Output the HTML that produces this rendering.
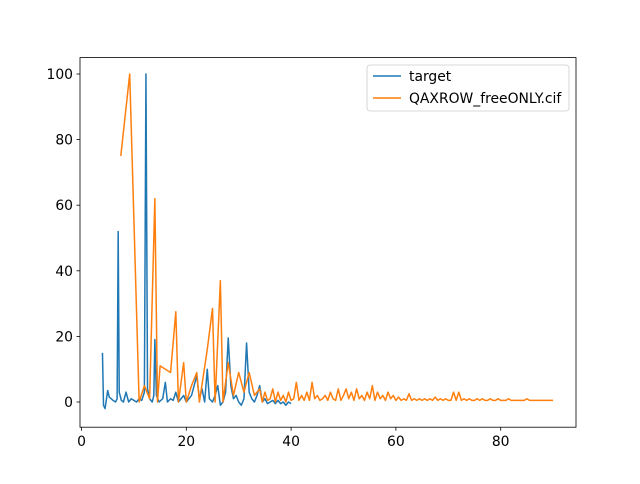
<!DOCTYPE html>
<html><head><meta charset="utf-8"><style>
body{margin:0;background:#fff;font-family:"DejaVu Sans","Liberation Sans",sans-serif}
</style></head><body>
<svg id="chart" width="640" height="480" xmlns="http://www.w3.org/2000/svg" font-family="DejaVu Sans, Liberation Sans, sans-serif">
<rect width="640" height="480" fill="#fff"/>
<g id="plot"></g>
<rect x="80" y="57.6" width="496" height="369.6" fill="none" stroke="#000" stroke-width="0.8"/>
<g id="xticks"></g><g id="yticks"></g>
<g>
<rect x="367" y="65" width="202" height="46" rx="3" fill="#fff" fill-opacity="0.8" stroke="#ccc" stroke-width="0.8"/>
<line x1="373" y1="76" x2="401" y2="76" stroke="#1f77b4" stroke-width="1.5"/>
<text x="409" y="81" font-size="13.9">target</text>
<line x1="373" y1="98" x2="401" y2="98" stroke="#ff7f0e" stroke-width="1.5"/>
<text x="409" y="103" font-size="13.9">QAXROW_freeONLY.cif</text>
</g>
</svg>
<script>
const targetX=[4,4.2,4.5,5,5.3,6,6.5,6.8,7,7.2,7.6,8,8.5,9,9.5,10,10.5,11,11.5,12,12.3,12.6,13,13.5,13.8,14,14.3,14.8,15.5,16,16.4,17,17.5,18,18.5,19,19.5,20,20.5,21,21.5,22,22.5,23,23.5,24,24.4,25,25.5,26,26.5,27,27.5,28,28.5,29,29.5,30,30.5,31,31.5,32,32.5,33,33.5,34,34.5,35,35.5,36,36.5,37,37.5,38,38.5,39,39.5,40];
const targetY=[15,-1,-2,3.5,1.5,0.5,0,1,52,3,0.5,0,3,0,1,0.5,0,1,0.5,3,100,4,1,0,2,19,2,0,1,6,0,1,0.5,3,0,1,2,0,1,2,5,8,1,4,0,10,1,0,2,5,-1,0,3,19.5,5,1,2,0,-1,1,18,3,1,0,2,5,0,1,-0.5,0,0.5,-0.5,0.5,-0.5,0,-1,0,-0.5];
const cifX=[7.5,9.2,11,12,13,14,14.5,15,17,18,18.5,19.5,20,21,22,22.5,24,25,25.5,26.5,27,28,29,30,31,32,33,34,34.5,35,35.5,36,36.5,37,37.5,38,38.5,39,39.5,40,40.5,41,41.5,42,42.5,43,43.5,44,44.5,45,45.5,46,46.5,47,47.5,48,48.5,49,49.5,50,50.5,51,51.5,52,52.5,53,53.5,54,54.5,55,55.5,56,56.5,57,57.5,58,58.5,59,59.5,60,60.5,61,61.5,62,62.5,63,63.5,64,64.5,65,65.5,66,66.5,67,67.5,68,68.5,69,69.5,70,70.5,71,71.5,72,72.5,73,73.5,74,74.5,75,75.5,76,76.5,77,77.5,78,78.5,79,79.5,80,80.5,81,81.5,82,82.5,83,83.5,84,84.5,85,85.5,86,86.5,87,87.5,88,88.5,89,89.5,90];
const cifY=[75,100,0,5,1,62,0,11,9,27.5,0,12,0,5,9,0,16,28.5,0,37,0,12,2,9,3,9,2,4,0,3,0.5,1,4,0,3,0.5,2,0,3,0.5,1,6,0.5,2,0.5,3,0.5,6,1,2,0.5,1,2,0.5,3,1,0.5,4,0.5,2,4,1,3,0.5,4,1,2,0.5,3,1,5,0.5,3,1,2,0.5,3,1,2,0.5,1.5,0.5,1,0.5,2.5,0.5,1,0.5,1,0.5,1,0.5,1,0.5,1.5,0.5,1,0.5,1,0.5,0.5,3,0.5,3,0.5,1,0.5,1,0.5,0.5,1,0.5,1,0.5,0.5,1,0.5,0.5,1,0.5,0.5,0.5,1,0.5,0.5,0.5,0.5,0.5,0.5,1,0.5,0.5,0.5,0.5,0.5,0.5,0.5,0.5,0.5,0.5,1,0.5,0.5,0];
const xTicks=[0,20,40,60,80];
const yTicks=[0,20,40,60,80,100];
const X=v=>81.5+5.24*v, Y=v=>402-3.28*v;
const NS='http://www.w3.org/2000/svg';
const plot=document.getElementById('plot');
function line(xs,ys,color,name){
  const p=document.createElementNS(NS,'polyline');
  p.setAttribute('points',xs.map((x,i)=>X(x)+','+Y(ys[i])).join(' '));
  p.setAttribute('fill','none');p.setAttribute('stroke',color);p.setAttribute('stroke-width','1.5');
  p.setAttribute('stroke-linejoin','round');
  
  
  plot.appendChild(p);
}
line(targetX,targetY,'#1f77b4','target-series');
line(cifX,cifY,'#ff7f0e','cif-series');
const xg=document.getElementById('xticks'), yg=document.getElementById('yticks');
xTicks.forEach(t=>{
  const l=document.createElementNS(NS,'line');
  l.setAttribute('x1',X(t));l.setAttribute('x2',X(t));l.setAttribute('y1',427.2);l.setAttribute('y2',430.7);l.setAttribute('stroke','#000');l.setAttribute('stroke-width','0.8');
  
  
  xg.appendChild(l);
  const tx=document.createElementNS(NS,'text');
  tx.setAttribute('x',X(t));tx.setAttribute('y',446);tx.setAttribute('text-anchor','middle');tx.setAttribute('font-size','13.9');
  tx.textContent=t;
  
  
  xg.appendChild(tx);
});
yTicks.forEach(t=>{
  const l=document.createElementNS(NS,'line');
  l.setAttribute('x1',76.5);l.setAttribute('x2',80);l.setAttribute('y1',Y(t));l.setAttribute('y2',Y(t));l.setAttribute('stroke','#000');l.setAttribute('stroke-width','0.8');
  
  
  yg.appendChild(l);
  const tx=document.createElementNS(NS,'text');
  tx.setAttribute('x',73);tx.setAttribute('y',Y(t)+5);tx.setAttribute('text-anchor','end');tx.setAttribute('font-size','13.9');
  tx.textContent=t;
  
  
  yg.appendChild(tx);
});
</script>
</body></html>
